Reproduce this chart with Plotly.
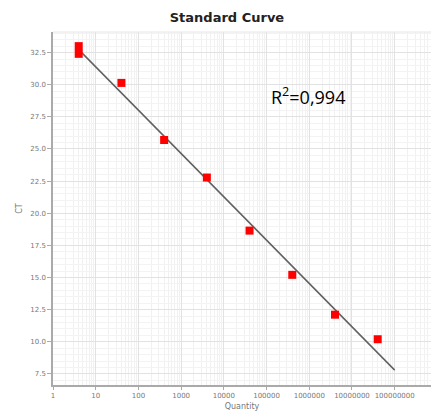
import numpy as np
import plotly.graph_objects as go

# data
quantity = [4, 4, 40, 400, 4000, 40000, 400000, 4000000, 40000000]
ct = [33.0, 32.4, 30.14, 25.7, 22.78, 18.65, 15.21, 12.11, 10.2]
curve_end = 1e8
r2_text = "R<sup>2</sup>=0,994"
x_tickvals = [1, 10, 100, 1000, 10000, 100000, 1000000, 10000000, 100000000, 1000000000]
x_ticktext = [str(v) for v in x_tickvals]
y_tickvals = [7.5, 10.0, 12.5, 15.0, 17.5, 20.0, 22.5, 25.0, 27.5, 30.0, 32.5]

lq = np.log10(np.array(quantity, dtype=float))
slope, intercept = np.polyfit(lq, np.array(ct), 1)
fit_x = np.array([min(quantity), curve_end])
fit_y = slope * np.log10(fit_x) + intercept

fig = go.Figure()
fig.add_trace(go.Scatter(x=fit_x, y=fit_y, mode="lines",
                         line=dict(color="#606060", width=1.5), showlegend=False))
fig.add_trace(go.Scatter(x=quantity, y=ct, mode="markers",
                         marker=dict(symbol="square", size=8, color="#ff0000", line=dict(width=0)),
                         showlegend=False))

fig.update_layout(
    width=434, height=413,
    margin=dict(l=53, r=3, t=32, b=28),
    paper_bgcolor="white", plot_bgcolor="white",
    title=dict(text="<b>Standard Curve</b>", x=0.523, xanchor="center", y=0.958, yanchor="middle",
               font=dict(family="DejaVu Sans", size=13, color="#222")),
    annotations=[dict(text=r2_text, xref="paper", yref="paper", x=0.675, y=0.82,
                      xanchor="center", yanchor="middle", showarrow=False,
                      font=dict(family="Open Sans", size=18, color="#000"))],
)
fig.update_xaxes(type="log", range=[0, 8.85],
                 tickvals=x_tickvals, ticktext=x_ticktext,
                 tickfont=dict(family="DejaVu Sans", size=7, color="#777"),
                 ticks="outside", ticklen=3, tickcolor="#aaa",
                 showline=True, linecolor="#aaa", linewidth=1.5,
                 showgrid=True, gridcolor="#e2e2e2", gridwidth=1,
                 minor=dict(dtick="D1", showgrid=True, gridcolor="#f1f1f1"),
                 title=dict(text="Quantity", font=dict(family="DejaVu Sans", size=8, color="#777"), standoff=4),
                 zeroline=False, mirror=False)
fig.update_yaxes(range=[6.64, 34.1], tickvals=y_tickvals, tickformat=".1f",
                 tickfont=dict(family="DejaVu Sans", size=7, color="#777"),
                 ticks="outside", ticklen=4, tickcolor="#aaa",
                 showline=True, linecolor="#aaa", linewidth=1.5,
                 showgrid=True, gridcolor="#e2e2e2", gridwidth=1,
                 minor=dict(dtick=0.5, showgrid=True, gridcolor="#f3f3f3"),
                 title=dict(text="CT", font=dict(family="DejaVu Sans", size=8, color="#777"), standoff=6),
                 zeroline=False)
fig.add_shape(type="line", xref="paper", yref="paper", x0=0, x1=1, y0=1, y1=1,
              line=dict(color="#e6e6e6", width=1))
fig.write_html("out.html")
